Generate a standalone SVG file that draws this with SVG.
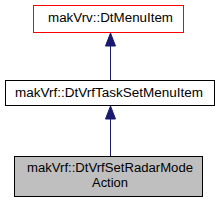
<svg xmlns="http://www.w3.org/2000/svg" width="221" height="203" viewBox="0 0 221 203">
<style>
.t{font-family:"Liberation Sans",Arial,sans-serif;font-size:12px;text-anchor:middle;fill:#000}
.e{stroke:#191970;stroke-width:1;fill:none}
.h{fill:#191970;stroke:#191970}
</style>
<rect width="221" height="203" fill="#fff"/>
<g id="connectors">
<path class="e" d="M110.5,46 V80"/>
<polygon class="h" points="110.5,33 105.5,46 115.5,46"/>
<path class="e" d="M110.5,119 V156"/>
<polygon class="h" points="110.5,106 105.5,119 115.5,119"/>
</g>
<g id="node1">
<rect x="33.5" y="5.5" width="150" height="27" fill="#fff" stroke="#ff0000"/>
<text class="t" x="110.5" y="22" textLength="125" lengthAdjust="spacingAndGlyphs">makVrv::DtMenuItem</text>
</g>
<g id="node2">
<rect x="5.5" y="80.5" width="209" height="25" fill="#fff" stroke="#000"/>
<text class="t" x="109" y="97" textLength="188" lengthAdjust="spacingAndGlyphs">makVrf::DtVrfTaskSetMenuItem</text>
</g>
<g id="node3">
<rect x="14.5" y="156.5" width="188" height="40" fill="#bfbfbf" stroke="#000"/>
<text class="t" x="110" y="172" textLength="166" lengthAdjust="spacingAndGlyphs">makVrf::DtVrfSetRadarMode</text>
<text class="t" x="110" y="187" textLength="36" lengthAdjust="spacingAndGlyphs">Action</text>
</g>
</svg>
